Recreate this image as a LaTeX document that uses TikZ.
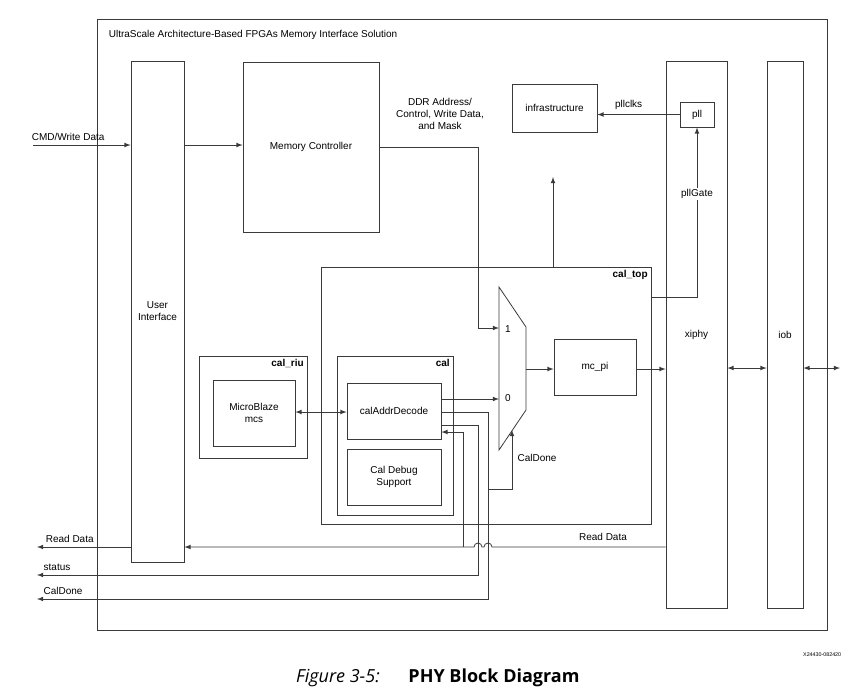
\documentclass[tikz,border=0pt]{standalone}
\usepackage{fontspec}
\setmainfont{Liberation Sans}
\newfontfamily\capfont{Open Sans}
\usepackage{tikz}
\usetikzlibrary{arrows}
\usetikzlibrary{fit}

\definecolor{linegray}{HTML}{3A3A3A}

\begin{document}
\begin{tikzpicture}[x=0.75pt,y=-0.75pt,font=\fontsize{7.5}{9}\selectfont,line width=0.6pt,
  every edge/.style={draw=linegray},
  blk/.style={draw=linegray,inner sep=0pt},
  txt/.style={label={[align=center]center:#1}},
  tag/.style={anchor=north east,inner sep=2.5pt,font=\fontsize{7.5}{9}\selectfont\bfseries},
  sig/.style={draw=linegray,-latex}]
  \useasboundingbox (0,0) rectangle (851,694);
  \node[blk,fit={(97,19) (827,630)}] (sol) {};
  \node[anchor=west] (soltitle) at (104,35) {UltraScale Architecture-Based FPGAs Memory Interface Solution};
  \node[blk,fit={(131,61) (184,562)},txt={User\\Interface}] (ui) {};
  \node[blk,fit={(243,62) (379,232)},txt={Memory Controller}] (mc) {};
  \node[blk,fit={(512,84) (597,132)},txt={infrastructure}] (infra) {};
  \node[blk,fit={(680,102) (714,127)},txt={pll}] (pll) {};
  \node[blk,fit={(666,61) (727,608)},txt={xiphy}] (xiphy) {};
  \node[blk,fit={(767,61) (803,608)},txt={iob}] (iob) {};
  \node[blk,fit={(321,267) (651,524)}] (caltop) {};
  \node[tag] (caltoptag) at (caltop.north east) {cal\_top};
  \node[blk,fit={(554,339) (636,395)},txt={mc\_pi}] (mcpi) {};
  \node[blk,fit={(199,356) (307,458)}] (calriu) {};
  \node[tag] (calriutag) at (calriu.north east) {cal\_riu};
  \node[blk,fit={(213,380) (295,446)},txt={MicroBlaze\\mcs}] (mb) {};
  \node[blk,fit={(337,356) (453,515)}] (cal) {};
  \node[tag] (caltag) at (cal.north east) {cal};
  \node[blk,fit={(347,383) (441,439)},txt={calAddrDecode}] (cad) {};
  \node[blk,fit={(347,449) (441,505)},txt={Cal Debug\\Support}] (dbg) {};

  \draw[draw=linegray] (499,287) coordinate (muxtl) -- (526,327) -- (526,410) -- (499,450) -- cycle;
  \coordinate (mux1) at (499,328);
  \coordinate (mux0) at (499,399);
  \coordinate (muxo) at (526,369);
  \coordinate (muxs) at (512,430);
  \node (mux1tag) at (508,329) {1};
  \node (mux0tag) at (508,398) {0};

  \coordinate (cmdin) at (33,145);
  \coordinate (rdout) at (37,547);
  \coordinate (stout) at (37,575);
  \coordinate (cdout) at (37,599);
  \coordinate (upend) at (553,177);
  \coordinate (ioout) at (840,368);

  \path[-latex]
    (cmdin) edge node[above,pos=0.36] {CMD/Write Data} (ui.west |- cmdin)
    (ui.east |- cmdin) edge (mc.west |- cmdin)
    (pll.west) edge node[above,pos=0.62] {pllclks} (infra.east |- pll.west)
    (caltop.north -| upend) edge (upend)
    (muxo) edge (mcpi.west |- muxo)
    (mcpi.east |- muxo) edge (xiphy.west |- muxo)
    (cad.east |- mux0) edge (mux0)
    (ui.west |- rdout) edge node[above,pos=0.65] {Read Data} (rdout);
  \path[latex-latex]
    (xiphy.east |- ioout) edge (iob.west |- ioout)
    (iob.east |- ioout) edge (ioout)
    (mb.east |- 0,412) edge (cad.west |- 0,412);

  \draw[sig] (mc.east) -| (478,328) -- (mux1);
  \draw[sig] (caltop.east |- 0,297) -| (pll.south);
  \node[fill=white,inner sep=1pt] (pllgate) at (pll.south |- 0,194) {pllGate};
  \node (ddr) at (440,114) [align=center] {DDR Address/\\Control, Write Data,\\and Mask};

  \draw[sig] (cad.east |- 0,412) -| (488,599) -- (cdout);
  \draw[sig] (488,489) -| (muxs);
  \draw[sig] (cad.east |- 0,425) -| (478,575) -- (stout);
  \draw[sig] (xiphy.west |- rdout) -- (492,547) arc (0:-180:4) -- (482,547) arc (0:-180:4) -- (ui.east |- rdout);
  \draw[sig] (463,547) |- (cad.east |- 0,432);
  \node (caldonetag) at (537,458) {CalDone};
  \node (rdtag) at (603,537) {Read Data};
  \node (sttag) at (57,567) {status};
  \node (cdtag) at (63,591) {CalDone};

  \node[anchor=east,font=\fontsize{4}{5}\selectfont] (docid) at (846,655) {X24430-082420};
  \node[font=\capfont\fontsize{13.5}{16}\selectfont\itshape] (figno) at (338,678) {Figure 3-5:};
  \node[font=\capfont\fontsize{13.5}{16}\selectfont\bfseries] (figtitle) at (494,678) {PHY Block Diagram};
\end{tikzpicture}
\end{document}
